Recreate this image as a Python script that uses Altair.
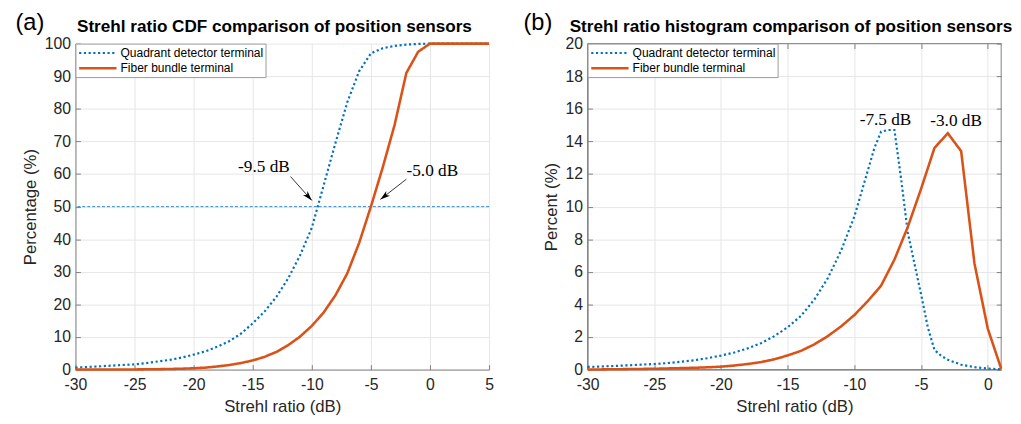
import math
import altair as alt
import pandas as pd

# ---------------- data ----------------
series_names = ["Quadrant detector terminal", "Fiber bundle terminal"]
panel_tags = ["(a)", "(b)"]
panel_titles = ["Strehl ratio CDF comparison of position sensors",
                "Strehl ratio histogram comparison of position sensors"]
x_title = "Strehl ratio (dB)"
y_titles = ["Percentage (%)", "Percent (%)"]

# CDF panel
cdf_x = list(range(-30, 6))
cdf_quad = [0.6, 0.8, 1.0, 1.2, 1.4, 1.6, 2.0, 2.5, 3.0, 3.7,
            4.6, 5.6, 7.0, 8.7, 11.0, 14.2, 17.8, 22.3, 28.0, 35.0,
            43.5, 56.5, 69.5, 82.0, 91.5, 97.0, 98.6, 99.3, 99.7, 99.9,
            100, 100, 100, 100, 100, 100]
cdf_fiber = [0.0, 0.0, 0.01, 0.02, 0.03, 0.05, 0.08, 0.12, 0.18, 0.27,
             0.4, 0.6, 0.95, 1.4, 2.0, 2.8, 3.9, 5.4, 7.5, 10.1,
             13.4, 17.5, 22.8, 29.5, 38.8, 50.0, 62.0, 75.0, 91.0, 97.5,
             100, 100, 100, 100, 100, 100]
cdf_ref_level = [50]
cdf_labels = ["-9.5 dB", "-5.0 dB"]
cdf_label_x = [-14.05, 0.2]
cdf_label_y = [62.0, 61.0]
cdf_arrow_x = [-11.8, -2.0]
cdf_arrow_y = [59.2, 58.4]
cdf_arrow_x2 = [-10.0, -4.2]
cdf_arrow_y2 = [51.9, 52.2]

# Histogram panel
hist_quad_x = [-30, -29, -28, -27, -26, -25, -24, -23, -22, -21,
               -20, -19, -18, -17, -16, -15, -14, -13, -12, -11,
               -10, -9, -8.5, -8, -7.5, -7, -6.5, -6, -5.5, -5,
               -4.5, -4, -3.5, -3, -2, -1, 0, 1]
hist_quad = [0.16, 0.19, 0.22, 0.26, 0.30, 0.34, 0.40, 0.48, 0.57, 0.70,
             0.86, 1.05, 1.30, 1.62, 2.05, 2.60, 3.30, 4.30, 5.60, 7.30,
             9.40, 12.2, 13.6, 14.6, 14.7, 14.7, 11.7, 8.4, 6.5, 4.6,
             2.6, 1.2, 0.85, 0.6, 0.3, 0.15, 0.06, 0.02]
hist_fiber_x = list(range(-30, 2))
hist_fiber = [0.01, 0.01, 0.02, 0.03, 0.04, 0.05, 0.07, 0.09, 0.11, 0.14,
              0.18, 0.25, 0.34, 0.46, 0.63, 0.87, 1.15, 1.55, 2.05, 2.65,
              3.35, 4.2, 5.15, 6.75, 8.75, 11.1, 13.6, 14.5, 13.4, 6.5,
              2.5, 0.05]
hist_labels = ["-7.5 dB", "-3.0 dB"]
hist_label_x = [-7.67, -2.38]
hist_label_y = [15.33, 15.25]

cdf_xdom, cdf_ydom = [-30, 5], [0, 100]
hist_xdom, hist_ydom = [-30, 1], [0, 20]
cdf_ticks_x = list(range(-30, 6, 5))
cdf_ticks_y = list(range(0, 101, 10))
hist_ticks_x = list(range(-30, 1, 5))
hist_ticks_y = list(range(0, 21, 2))

# ---------------- style ----------------
W, H = 420, 331
FONT = "Liberation Sans"
SERIF = "Liberation Serif"
BLUE, ORANGE = "#0072BD", "#D95319"
AX = "#808080"
TXT = "#262626"
LABEL_EXPR = "'' + datum.value"

color_scale = alt.Scale(domain=series_names, range=[BLUE, ORANGE])
dash_scale = alt.Scale(domain=series_names, range=[[2.2, 2.6], [1, 0]])
width_scale = alt.Scale(domain=series_names, range=[2.2, 2.6])


def make_legend():
    return alt.Legend(title=None, orient="top-left", offset=0, padding=2,
                      rowPadding=1, fillColor="white", strokeColor="#9a9a9a",
                      labelFont=FONT, labelFontSize=12.2, labelColor="#000000",
                      symbolType="M-3,0L3,0", symbolSize=160,
                      symbolStrokeWidth=2.4, symbolOffset=12.7,
                      labelOffset=15)


def main_x_axis(vals):
    return alt.Axis(values=vals, title=x_title, grid=True, ticks=False,
                    tickSize=0, domain=True, domainColor=AX, labelPadding=7,
                    labelFlush=False, labelExpr=LABEL_EXPR, titlePadding=7)


def main_y_axis(vals, title):
    return alt.Axis(values=vals, title=title, grid=True, ticks=False,
                    tickSize=0, domain=True, domainColor=AX, labelPadding=5,
                    labelExpr=LABEL_EXPR, titlePadding=5)


def tick_axis(orient, vals):
    return alt.Axis(orient=orient, values=vals, offset=-5, tickSize=5,
                    ticks=True, labels=False, domain=False, grid=False,
                    title=None, tickColor=AX, tickWidth=1)


def series_df(xs, ys, name):
    return pd.DataFrame({"x": xs, "y": ys, "series": name})


def line_layer(df, xsc, ysc, xaxis, yaxis, with_legend):
    leg = make_legend() if with_legend else None
    return alt.Chart(df).mark_line(strokeCap="butt").encode(
        x=alt.X("x:Q", scale=xsc, axis=xaxis),
        y=alt.Y("y:Q", scale=ysc, axis=yaxis),
        color=alt.Color("series:N", scale=color_scale, legend=leg),
        strokeDash=alt.StrokeDash("series:N", scale=dash_scale, legend=leg),
        strokeWidth=alt.StrokeWidth("series:N", scale=width_scale, legend=None),
    )


def header_layers(tag, title, tag_dx, title_dx):
    tag_df = pd.DataFrame({"t": [tag]})
    title_df = pd.DataFrame({"t": [title]})
    tag_layer = alt.Chart(tag_df).mark_text(
        font=FONT, fontSize=24, color="#000000", align="center",
        baseline="middle").encode(
        x=alt.value(tag_dx), y=alt.value(-20.5), text="t:N")
    title_layer = alt.Chart(title_df).mark_text(
        font=FONT, fontSize=17.4, fontWeight="bold", color="#000000",
        align="center", baseline="alphabetic").encode(
        x=alt.value(W / 2 + title_dx), y=alt.value(-11.5), text="t:N")
    return [tag_layer, title_layer]


def heading(x1, y1, x2, y2, xd, yd):
    dx = (x2 - x1) * W / (xd[1] - xd[0])
    dy = -(y2 - y1) * H / (yd[1] - yd[0])
    return math.degrees(math.atan2(dx, -dy)) % 360


# ---------------- left panel (CDF) ----------------
cx = alt.Scale(domain=cdf_xdom, nice=False, zero=False)
cy = alt.Scale(domain=cdf_ydom, nice=False, zero=False)

cdf_blue = line_layer(series_df(cdf_x, cdf_quad, series_names[0]), cx, cy,
                      main_x_axis(cdf_ticks_x),
                      main_y_axis(cdf_ticks_y, y_titles[0]), True)
cdf_orange = line_layer(series_df(cdf_x, cdf_fiber, series_names[1]), cx, cy,
                        None, None, True)

ref_rule = alt.Chart(pd.DataFrame({"y": cdf_ref_level})).mark_rule(
    color=BLUE, strokeWidth=0.8, strokeDash=[3, 2]).encode(
    y=alt.Y("y:Q", scale=cy, axis=None))

cdf_text = alt.Chart(pd.DataFrame({"x": cdf_label_x, "y": cdf_label_y,
                                   "t": cdf_labels})).mark_text(
    font=SERIF, fontSize=17.5, color="#000000", align="center",
    baseline="middle").encode(
    x=alt.X("x:Q", scale=cx, axis=tick_axis("bottom", cdf_ticks_x)),
    y=alt.Y("y:Q", scale=cy, axis=tick_axis("left", cdf_ticks_y)),
    text="t:N")

arrow_df = pd.DataFrame({"x": cdf_arrow_x, "y": cdf_arrow_y,
                         "x2": cdf_arrow_x2, "y2": cdf_arrow_y2})
arrow_df["ang"] = [heading(a, b, c, d, cdf_xdom, cdf_ydom)
                   for a, b, c, d in zip(cdf_arrow_x, cdf_arrow_y,
                                         cdf_arrow_x2, cdf_arrow_y2)]
arrow_lines = alt.Chart(arrow_df).mark_rule(color="#000000",
                                            strokeWidth=0.8).encode(
    x=alt.X("x:Q", scale=cx, axis=None),
    y=alt.Y("y:Q", scale=cy, axis=None),
    x2="x2:Q", y2="y2:Q")
arrow_heads = alt.Chart(arrow_df).mark_point(
    shape="M0,0L-0.55,1.8L0,1.3L0.55,1.8Z", filled=True, color="#000000",
    size=124, opacity=1, strokeWidth=0).encode(
    x=alt.X("x2:Q", scale=cx, axis=None),
    y=alt.Y("y2:Q", scale=cy, axis=None),
    angle=alt.Angle("ang:Q", scale=None))

left = alt.layer(
    ref_rule, cdf_blue, cdf_orange, cdf_text, arrow_lines, arrow_heads,
    *header_layers(panel_tags[0], panel_titles[0], -46.3, -8)
).resolve_axis(x="independent", y="independent").properties(width=W, height=H)

# ---------------- right panel (histogram) ----------------
hx = alt.Scale(domain=hist_xdom, nice=False, zero=False)
hy = alt.Scale(domain=hist_ydom, nice=False, zero=False)

frame = alt.Chart(pd.DataFrame({"x": [hist_xdom[0]], "x2": [hist_xdom[1]],
                                "y": [hist_ydom[0]], "y2": [hist_ydom[1]]})
                  ).mark_rect(filled=False, stroke=AX, strokeWidth=1).encode(
    x=alt.X("x:Q", scale=hx, axis=tick_axis("top", hist_ticks_x)),
    y=alt.Y("y:Q", scale=hy, axis=tick_axis("right", hist_ticks_y)),
    x2="x2:Q", y2="y2:Q")

hist_blue = line_layer(series_df(hist_quad_x, hist_quad, series_names[0]),
                       hx, hy, main_x_axis(hist_ticks_x),
                       main_y_axis(hist_ticks_y, y_titles[1]), True)
hist_orange = line_layer(series_df(hist_fiber_x, hist_fiber, series_names[1]),
                         hx, hy, None, None, True)

hist_text = alt.Chart(pd.DataFrame({"x": hist_label_x, "y": hist_label_y,
                                    "t": hist_labels})).mark_text(
    font=SERIF, fontSize=17.5, color="#000000", align="center",
    baseline="middle").encode(
    x=alt.X("x:Q", scale=hx, axis=tick_axis("bottom", hist_ticks_x)),
    y=alt.Y("y:Q", scale=hy, axis=tick_axis("left", hist_ticks_y)),
    text="t:N")

right = alt.layer(
    frame, hist_blue, hist_orange, hist_text,
    *header_layers(panel_tags[1], panel_titles[1], -50.5, -3.5)
).resolve_axis(x="independent", y="independent").properties(width=W, height=H)

chart = alt.hconcat(left, right, spacing=28).resolve_scale(
    color="independent", strokeDash="independent", strokeWidth="independent"
).resolve_legend(
    color="independent", strokeDash="independent"
).properties(
    padding={"left": 7.5, "top": 0, "right": 0, "bottom": 0}
).configure_view(stroke=None).configure_axis(
    labelFont=FONT, labelFontSize=16, labelColor=TXT,
    titleFont=FONT, titleFontSize=17, titleFontWeight="normal",
    titleColor=TXT, gridColor="#e6e6e6", gridWidth=1,
    domainColor=AX, tickColor=AX
)

chart.save("out.html", embed_options={"renderer": "svg", "actions": False})
